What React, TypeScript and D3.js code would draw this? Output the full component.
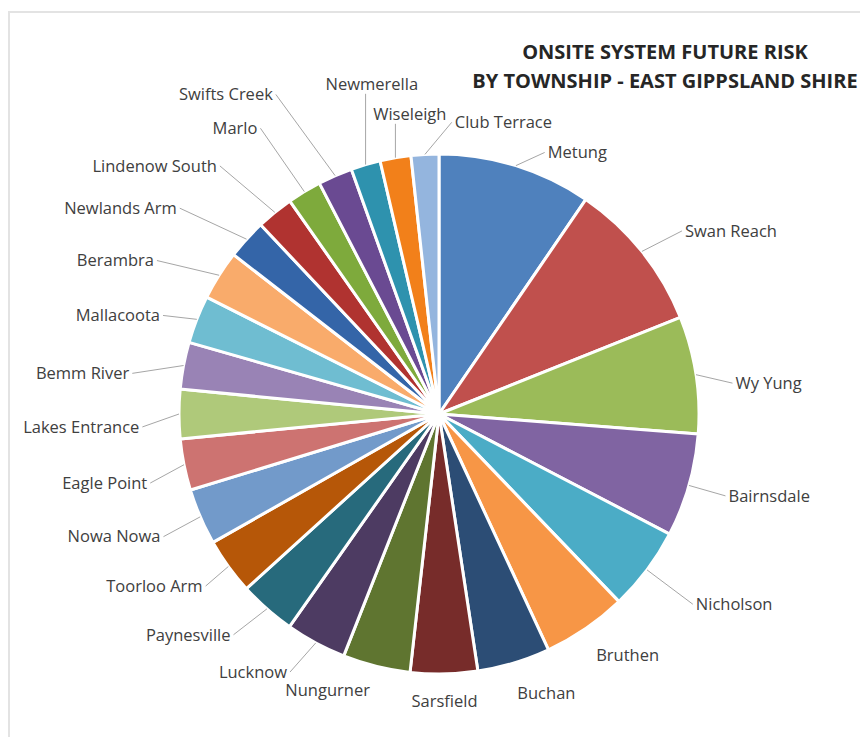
import React, { useMemo } from 'react';
import * as d3 from 'd3';

// ---- data ----
const townships = [
  'Metung', 'Swan Reach', 'Wy Yung', 'Bairnsdale', 'Nicholson', 'Bruthen', 'Buchan',
  'Sarsfield', 'Nungurner', 'Lucknow', 'Paynesville', 'Toorloo Arm', 'Nowa Nowa',
  'Eagle Point', 'Lakes Entrance', 'Bemm River', 'Mallacoota', 'Berambra',
  'Newlands Arm', 'Lindenow South', 'Marlo', 'Swifts Creek', 'Newmerella',
  'Wiseleigh', 'Club Terrace',
];
const riskValues = [
  34.4, 33.8, 26.2, 23.1, 18.7, 18.9, 16.3, 15.0, 15.1, 13.6, 12.7, 12.6, 12.6,
  11.5, 11.0, 10.5, 10.7, 11.1, 8.9, 8.3, 7.6, 7.7, 6.6, 6.9, 6.2,
];
const titleLines = ['ONSITE SYSTEM FUTURE RISK', 'BY TOWNSHIP - EAST GIPPSLAND SHIRE'];

// ---- styles / layout ----
const sliceColors = [
  '#4f81bd', '#c0504d', '#9bbb59', '#8064a2', '#4bacc6', '#f79646',
  '#2c4d75', '#772c2a', '#5f7530', '#4d3b62', '#276a7c', '#b65708',
  '#729aca', '#cd7371', '#afc97a', '#9983b5', '#6fbdd1', '#f9ab6b',
  '#3465a8', '#b03330', '#7eaa3c', '#6a4a92', '#2e92ae', '#f2801a', '#94b5de',
];
// label placement relative to each slice: angular nudge (deg) and distance (x radius)
const labelNudge = [
  4.8, 1.7, 2.7, 0, 0, -3.7, -4.3, 0, 8, 1.7, 1.5, -0.5, -0.7,
  -2.2, -2.5, -3.2, -1.7, -3.7, -3.8, -2.3, -0.8, -3.5, 4.9, 4.1, 5.6,
];
const labelDist = [
  1.085, 1.17, 1.135, 1.146, 1.22, 1.177, 1.15, 1.104, 1.146, 1.146, 1.16, 1.115, 1.16,
  1.142, 1.142, 1.19, 1.127, 1.235, 1.273, 1.273, 1.296, 1.38, 1.296, 1.16, 1.123,
];

const W = 860;
const H = 737;
const CX = 439;
const CY = 414;
const R = 260;
const LABEL_SIZE = 16.5;
const LABEL_FONT = `${LABEL_SIZE}px "Open Sans"`;

function polar(angle: number, dist: number) {
  return [CX + dist * Math.sin(angle), CY - dist * Math.cos(angle)];
}

let ctx: CanvasRenderingContext2D | null = null;
function textWidth(t: string) {
  if (!ctx) ctx = document.createElement('canvas').getContext('2d');
  if (!ctx) return t.length * 8;
  ctx.font = LABEL_FONT;
  return ctx.measureText(t).width;
}

export default function App() {
  const pieData = useMemo(
    () => d3.pie<number>().sort(null).value((d) => d)(riskValues),
    []
  );
  const arcGen = d3.arc<d3.PieArcDatum<number>>().innerRadius(0).outerRadius(R);

  const labels = pieData.map((p, i) => {
    const mid = (p.startAngle + p.endAngle) / 2;
    const ang = mid + (labelNudge[i] * Math.PI) / 180;
    const deg = ((ang * 180) / Math.PI + 360) % 360;
    const [ax, ay] = polar(ang, R * labelDist[i]);
    let anchor: 'start' | 'middle' | 'end' = 'start';
    if ((deg >= 135 && deg <= 205) || (deg >= 340 && deg < 359)) anchor = 'middle';
    else if (deg > 205 && deg < 340) anchor = 'end';
    else anchor = 'start';
    const w = textWidth(townships[i]);
    const [px, py] = polar(mid, R);
    let qx = ax;
    let qy = ay;
    let tx = ax;
    if (anchor === 'start') tx = ax + 3;
    if (anchor === 'end') tx = ax - 3;
    if (anchor === 'middle') {
      const x0 = ax - w / 2 - 2;
      const x1 = ax + w / 2 + 2;
      const y0 = ay - 10;
      const y1 = ay + 10;
      qx = Math.max(x0, Math.min(x1, px));
      qy = Math.max(y0, Math.min(y1, py));
    }
    const showLine = Math.hypot(qx - px, qy - py) > 24;
    return { name: townships[i], tx, ty: ay, anchor, px, py, qx, qy, showLine };
  });

  return (
    <svg
      width={W}
      height={H}
      style={{ position: 'absolute', left: 0, top: 0, background: '#ffffff' }}
    >
      <rect x={0} y={0} width={W} height={H} fill="#ffffff" />
      <rect
        x={9}
        y={12}
        width={W + 20}
        height={H + 20}
        fill="none"
        stroke="#e3e3e3"
        strokeWidth={2}
      />
      <g>
        {titleLines.map((t, i) => (
          <text
            key={t}
            x={665}
            y={59 + i * 29}
            textAnchor="middle"
            fontFamily='"Open Sans", sans-serif'
            fontWeight={700}
            fontSize={20}
            fill="#262626"
          >
            {t}
          </text>
        ))}
      </g>
      <g transform={`translate(${CX},${CY})`}>
        {pieData.map((p, i) => (
          <path
            key={townships[i]}
            d={arcGen(p) || ''}
            fill={sliceColors[i]}
            stroke="#ffffff"
            strokeWidth={3}
            strokeLinejoin="round"
          />
        ))}
      </g>
      <g>
        {labels.map((l) =>
          l.showLine ? (
            <line
              key={'l' + l.name}
              x1={l.px}
              y1={l.py}
              x2={l.qx}
              y2={l.qy}
              stroke="#a6a6a6"
              strokeWidth={1}
            />
          ) : null
        )}
        {labels.map((l) => (
          <text
            key={'t' + l.name}
            x={l.tx}
            y={l.ty}
            dy="0.35em"
            textAnchor={l.anchor}
            fontFamily='"Open Sans", sans-serif'
            fontSize={LABEL_SIZE}
            fill="#404040"
          >
            {l.name}
          </text>
        ))}
      </g>
    </svg>
  );
}
